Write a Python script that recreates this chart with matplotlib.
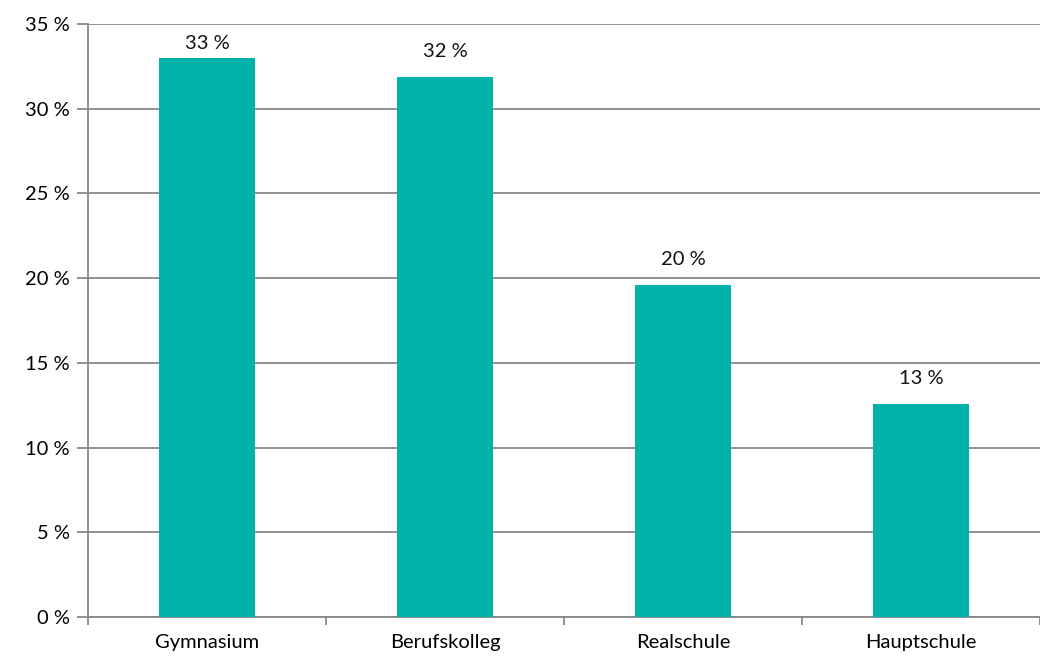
import matplotlib
matplotlib.use('Agg')
import matplotlib.pyplot as plt
import numpy as np

# Schulformen und Anteile (in %)
categories = ['Gymnasium', 'Berufskolleg', 'Realschule', 'Hauptschule']
values = [33.0, 31.85, 19.6, 12.57]
labels = ['33 %', '32 %', '20 %', '13 %']
yticks = [0, 5, 10, 15, 20, 25, 30, 35]

plt.rcParams['font.family'] = ['Lato', 'DejaVu Sans']
axis_col = '#888888'
fs = 14.5

fig = plt.figure(figsize=(10.4, 6.58), dpi=100)
ax = fig.add_axes([88 / 1040, 1 - 617 / 658, 1 - 88 / 1040, (617 - 24) / 658])

x = np.arange(len(categories))
ax.bar(x, values, width=0.4, color='#00B2A9', zorder=3)

# Beschriftung ueber den Balken, oben an den Rand gedrueckt wie in Excel
for xi, v, lab in zip(x, values, labels):
    ax.text(xi, min(v + 1.0, 33.35), lab, ha='center', va='bottom', fontsize=fs, color='#111111')

ax.set_xlim(-0.5, len(categories) - 0.5)
ax.set_ylim(0, 35)
ax.set_yticks(yticks)
ax.set_yticklabels([f'{t} %' for t in yticks], fontsize=fs)
ax.yaxis.grid(True, color=axis_col, linewidth=1.3, zorder=0)

# x-Achse: Beschriftungen mittig, Striche an den Kategoriegrenzen
ax.set_xticks(x)
ax.set_xticklabels(categories, fontsize=fs)
ax.tick_params(axis='x', length=0, pad=12)
ax.set_xticks(np.arange(-0.5, len(categories)), minor=True)
ax.tick_params(axis='x', which='minor', length=6, color=axis_col, width=1.3)
ax.tick_params(axis='y', length=8, color=axis_col, width=1.3, pad=5)

for s in ['top', 'right']:
    ax.spines[s].set_visible(False)
for s in ['left', 'bottom']:
    ax.spines[s].set_color(axis_col)
    ax.spines[s].set_linewidth(1.3)

fig.savefig('out.png', dpi=100)
